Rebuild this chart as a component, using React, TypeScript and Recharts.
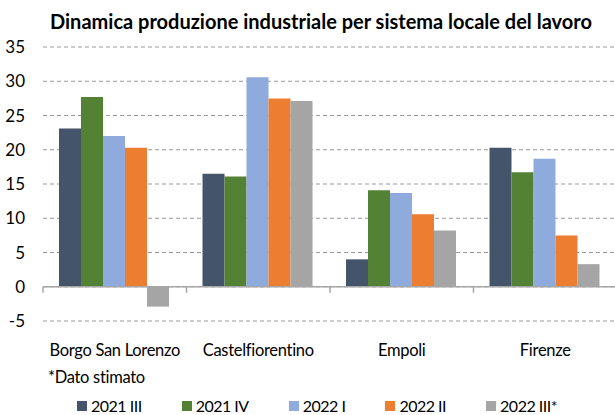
import { Bar, BarChart, CartesianGrid, ReferenceLine, XAxis, YAxis } from "recharts";

const areas = ["Borgo San Lorenzo", "Castelfiorentino", "Empoli", "Firenze"];
const q2021III = [23.1, 16.5, 4.0, 20.3];
const q2021IV = [27.7, 16.1, 14.1, 16.7];
const q2022I = [22.0, 30.6, 13.7, 18.7];
const q2022II = [20.3, 27.5, 10.6, 7.5];
const q2022III = [-2.9, 27.1, 8.2, 3.3];
const yTicks = [-5, 0, 5, 10, 15, 20, 25, 30, 35];

const series = [
  { key: "q2021III", name: "2021 III", color: "#44546A" },
  { key: "q2021IV", name: "2021 IV", color: "#548235" },
  { key: "q2022I", name: "2022 I", color: "#8FAADC" },
  { key: "q2022II", name: "2022 II", color: "#ED7D31" },
  { key: "q2022III", name: "2022 III*", color: "#A5A5A5" },
];

const data = areas.map((area, i) => ({
  area,
  q2021III: q2021III[i],
  q2021IV: q2021IV[i],
  q2022I: q2022I[i],
  q2022II: q2022II[i],
  q2022III: q2022III[i],
}));

const FONT = "Lato, 'Open Sans', sans-serif";

// zero line with little tick marks between the categories
function ZeroAxis(props: any) {
  const { x1, y1, x2, y2 } = props;
  const step = (x2 - x1) / areas.length;
  return (
    <g>
      <line x1={x1} y1={y1} x2={x2} y2={y2} stroke="#a6a6a6" strokeWidth={1.5} />
      {areas.concat([""]).map((_, i) => (
        <line
          key={i}
          x1={x1 + step * i}
          x2={x1 + step * i}
          y1={y1}
          y2={y1 + 6}
          stroke="#a6a6a6"
          strokeWidth={1.5}
        />
      ))}
    </g>
  );
}

function AreaTick(props: any) {
  const { x, y, payload } = props;
  return (
    <text
      x={x}
      y={y + 29}
      textAnchor="middle"
      dominantBaseline="central"
      fontSize={16.5}
      letterSpacing={-0.3}
      fill="#000"
      fontFamily={FONT}
    >
      {payload.value}
    </text>
  );
}

export default function App() {
  return (
    <div style={{ position: "absolute", left: 0, top: 0, width: 615, height: 415, overflow: "hidden", background: "#fff", fontFamily: FONT }}>
      <div
        style={{
          position: "absolute",
          left: 0,
          width: 642,
          top: 8,
          textAlign: "center",
          fontWeight: 700,
          fontSize: 20,
          lineHeight: "26px",
          color: "#000",
        }}
      >
        Dinamica produzione industriale per sistema locale del lavoro
      </div>
      <BarChart
        width={620}
        height={415}
        data={data}
        margin={{ top: 47, right: 3, bottom: 64, left: 0 }}
        barCategoryGap={16}
        barGap={0}
      >
        <CartesianGrid vertical={false} strokeDasharray="4 3" stroke="#999" />
        <XAxis
          dataKey="area"
          height={30}
          axisLine={false}
          tickLine={false}
          tickSize={0}
          tickMargin={0}
          interval={0}
          tick={<AreaTick />}
        />
        <YAxis
          width={43}
          domain={[-5, 35]}
          ticks={yTicks}
          axisLine={false}
          tickLine={false}
          tickSize={0}
          tickMargin={18}
          tick={{ fontSize: 17, fill: "#000", fontFamily: FONT }}
        />
        {series.map((s) => (
          <Bar key={s.key} dataKey={s.key} name={s.name} fill={s.color} isAnimationActive={false} />
        ))}
        <ReferenceLine y={0} shape={<ZeroAxis />} />
      </BarChart>
      <div style={{ position: "absolute", left: 48, top: 365, fontSize: 16.5, letterSpacing: -0.3, lineHeight: "24px", color: "#000" }}>
        *Dato stimato
      </div>
      <div
        style={{
          position: "absolute",
          left: 77,
          top: 394,
          display: "flex",
          gap: 40,
          fontSize: 16,
          letterSpacing: -0.5,
          lineHeight: "24px",
          color: "#000",
        }}
      >
        {series.map((s) => (
          <div key={s.key} style={{ display: "flex", alignItems: "center" }}>
            <span style={{ width: 10, height: 10, background: s.color, marginRight: 4 }} />
            <span>{s.name}</span>
          </div>
        ))}
      </div>
    </div>
  );
}
